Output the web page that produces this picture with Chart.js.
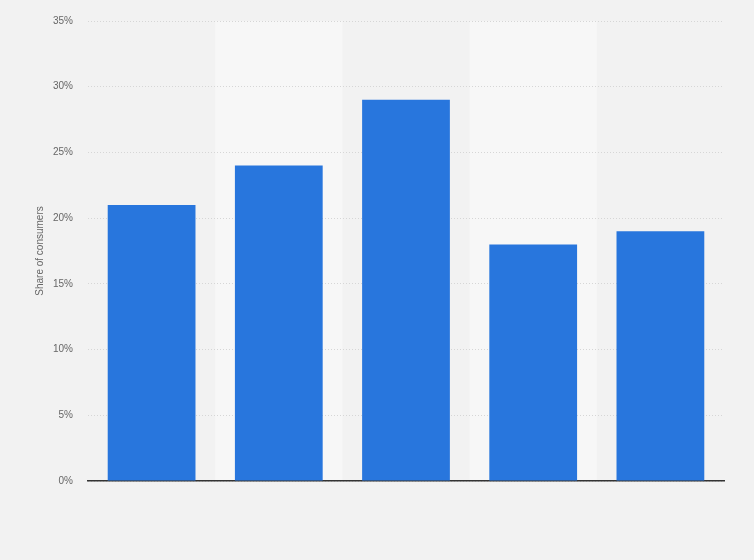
<!DOCTYPE html>
<html>
<head>
<meta charset="utf-8">
<script src="https://cdn.jsdelivr.net/npm/chart.js@4/dist/chart.umd.min.js"></script>
<style>
  html, body { margin: 0; padding: 0; background: #f2f2f2; }
  #wrap { width: 754px; height: 560px; }
</style>
</head>
<body>
<div id="wrap"><canvas id="chart" width="754" height="560"></canvas></div>
<script>
// Chart data (no category labels shown)
const categories = ['A', 'B', 'C', 'D', 'E'];
const shareValues = [21, 24, 29, 18, 19];
const yTicks = [0, 5, 10, 15, 20, 25, 30, 35];

// Alternating column bands behind the bars
const bandPlugin = {
    id: 'bands',
    beforeDraw(chart) {
        const { ctx, chartArea, scales } = chart;
        const x = scales.x;
        const step = (x.right - x.left) / categories.length;
        ctx.save();
        ctx.fillStyle = '#f7f7f7';
        categories.forEach((c, i) => {
            if (i % 2 === 1) {
                const cx = x.getPixelForValue(i);
                ctx.fillRect(cx - step / 2, chartArea.top, step, chartArea.bottom - chartArea.top);
            }
        });
        ctx.restore();
    }
};

Chart.defaults.font.family = '"Liberation Sans", Arial, sans-serif';

new Chart(document.getElementById('chart').getContext('2d'), {
    type: 'bar',
    data: {
        labels: categories,
        datasets: [{
            label: 'Share of consumers',
            data: shareValues,
            backgroundColor: '#2876dd',
            borderWidth: 0,
            barPercentage: 0.69,
            categoryPercentage: 1.0
        }]
    },
    options: {
        responsive: false,
        animation: false,
        layout: { padding: { left: 0, right: 30, top: 19, bottom: 79 } },
        plugins: { legend: { display: false }, tooltip: { enabled: false } },
        scales: {
            x: {
                grid: { display: false },
                ticks: { display: false },
                border: { display: true, color: '#333333', width: 1.5 },
                afterFit(scale) { scale.height = 0; }
            },
            y: {
                min: 0,
                max: 35,
                afterBuildTicks(scale) { scale.ticks = yTicks.map(v => ({ value: v })); },
                ticks: {
                    color: '#666666',
                    font: { size: 10 },
                    padding: 15,
                    callback: v => v + '%'
                },
                grid: {
                    color: '#d6d6d6',
                    lineWidth: 1,
                    drawTicks: false
                },
                border: { display: false, dash: [1, 2] },
                title: {
                    display: true,
                    text: 'Share of consumers',
                    color: '#666666',
                    font: { size: 10 },
                    padding: { top: 34, bottom: 0 }
                },
                afterFit(scale) { scale.width = 88; }
            }
        }
    },
    plugins: [bandPlugin]
});
</script>
</body>
</html>
